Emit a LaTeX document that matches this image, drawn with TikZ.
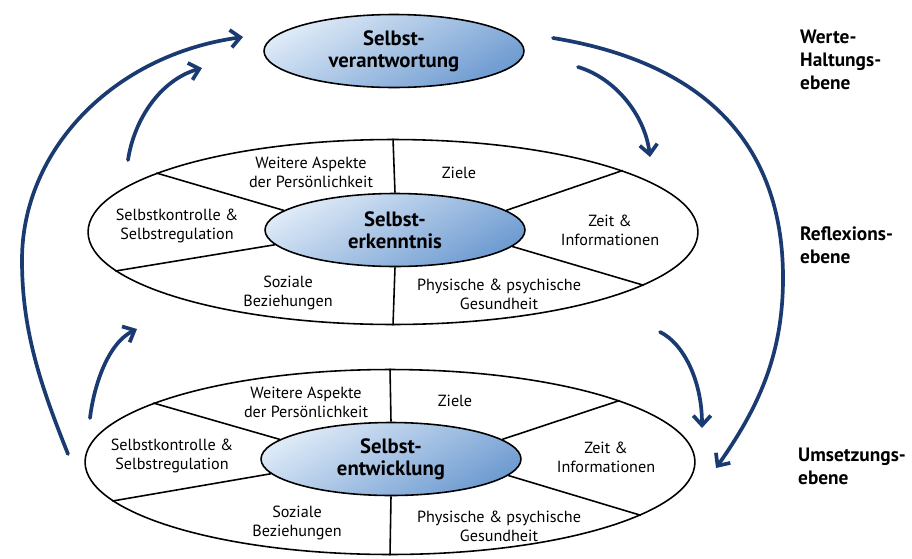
\documentclass[tikz,border=0pt]{standalone}
\usepackage{fontspec}
\setmainfont{PT Sans}
\usepackage{xcolor}
\usepackage{tikz}
\usetikzlibrary{shapes.geometric,arrows.meta}

\definecolor{arrowblue}{HTML}{1A3A72}
\definecolor{ovalLight}{HTML}{DEEAF7}
\definecolor{ovalDark}{HTML}{6E9BD1}

\begin{document}
\begin{tikzpicture}[x=0.02cm,y=-0.02cm,
		ring/.style={draw,line width=0.9pt,ellipse,minimum width=12.2cm,minimum height=3.7cm},
		core/.style={draw,line width=0.9pt,ellipse,minimum width=5.2cm,minimum height=1.46cm,inner sep=0pt,
			top color=ovalLight,bottom color=ovalDark,shading angle=30,
			font=\fontsize{11.8}{12.5}\selectfont\bfseries,align=center},
		divider/.style={line width=0.9pt},
		lbl/.style={font=\fontsize{9.2}{10.8}\selectfont,align=center},
		layertxt/.style={font=\fontsize{11}{13}\selectfont\bfseries,align=left,anchor=west},
		arr/.style={arrowblue,line width=2.1pt,line cap=round,-{Straight Barb[length=5.5pt,width=10pt]}}]
		\useasboundingbox[fill=white] (0,0) rectangle (912,558);

		% oberste Ebene
		\node[core] (verant) at (394,51) {Selbst-\\verantwortung};

		% Reflexionsebene
		\node[ring] (mRing) at (393,232) {};
		\node[core] (mCore) at (395,230) {Selbst-\\erkenntnis};
		\draw[divider] (mRing.north) -- (mCore.north);
		\draw[divider] (mCore.south) -- (mRing.south);
		\foreach \o/\i in {166/170,188.5/187,15.5/10,348/352}
			\draw[divider] (mRing.\o) -- (mCore.\i);

		\node[lbl] (mWeitere) at (311,172) {Weitere Aspekte\\der Persönlichkeit};
		\node[lbl] (mZiele) at (459,173) {Ziele};
		\node[lbl] (mKontrolle) at (177,226) {Selbstkontrolle \&\\Selbstregulation};
		\node[lbl] (mZeit) at (610,230) {Zeit \&\\Informationen};
		\node[lbl] (mSozial) at (288,293) {Soziale\\Beziehungen};
		\node[lbl] (mPhysis) at (499,294) {Physische \& psychische\\Gesundheit};

		% Umsetzungsebene
		\node[ring] (lRing) at (390,462) {};
		\node[core] (lCore) at (391,459) {Selbst-\\entwicklung};
		\draw[divider] (lRing.north) -- (lCore.north);
		\draw[divider] (lCore.south) -- (lRing.south);
		\foreach \o/\i in {166/170,188.5/187,15.5/10,348/352}
			\draw[divider] (lRing.\o) -- (lCore.\i);

		\node[lbl] (lWeitere) at (306,402) {Weitere Aspekte\\der Persönlichkeit};
		\node[lbl] (lZiele) at (455,401) {Ziele};
		\node[lbl] (lKontrolle) at (172,456) {Selbstkontrolle \&\\Selbstregulation};
		\node[lbl] (lZeit) at (606,457) {Zeit \&\\Informationen};
		\node[lbl] (lSozial) at (297,523) {Soziale\\Beziehungen};
		\node[lbl] (lPhysis) at (499,526) {Physische \& psychische\\Gesundheit};

		% Ebenen rechts
		\node[layertxt] (wEbene) at (794,60) {Werte-\\Haltungs-\\ebene};
		\node[layertxt] (rEbene) at (794,245) {Reflexions-\\ebene};
		\node[layertxt] (uEbene) at (792,466) {Umsetzungs-\\ebene};

		% Pfeile
		\coordinate (bigLs) at (68,454);
		\coordinate (bigLm) at (22,260);
		\coordinate (bigLe) at (243,37);
		\draw[arr] (bigLs) .. controls (40,384) and (22,330) .. (bigLm)
			.. controls (22,150) and (113,55) .. (bigLe);

		\coordinate (bigRs) at (553,38);
		\coordinate (bigRm) at (783,278);
		\coordinate (bigRe) at (716,468);
		\draw[arr] (bigRs) .. controls (700,62) and (783,140) .. (bigRm)
			.. controls (783,358) and (756,411) .. (bigRe);

		\coordinate (upLs) at (128,160);
		\coordinate (upLe) at (202,68);
		\draw[arr] (upLs) .. controls (134,120) and (160,80) .. (upLe);

		\coordinate (loLs) at (90,418);
		\coordinate (loLe) at (137,329);
		\draw[arr] (loLs) .. controls (94,385) and (108,343) .. (loLe);

		\coordinate (upRs) at (578,67);
		\coordinate (upRe) at (650,157);
		\draw[arr] (upRs) .. controls (615,78) and (645,115) .. (upRe);

		\coordinate (loRs) at (660,332);
		\coordinate (loRe) at (702,428);
		\draw[arr] (loRs) .. controls (683,343) and (702,380) .. (loRe);
	\end{tikzpicture}
\end{document}
